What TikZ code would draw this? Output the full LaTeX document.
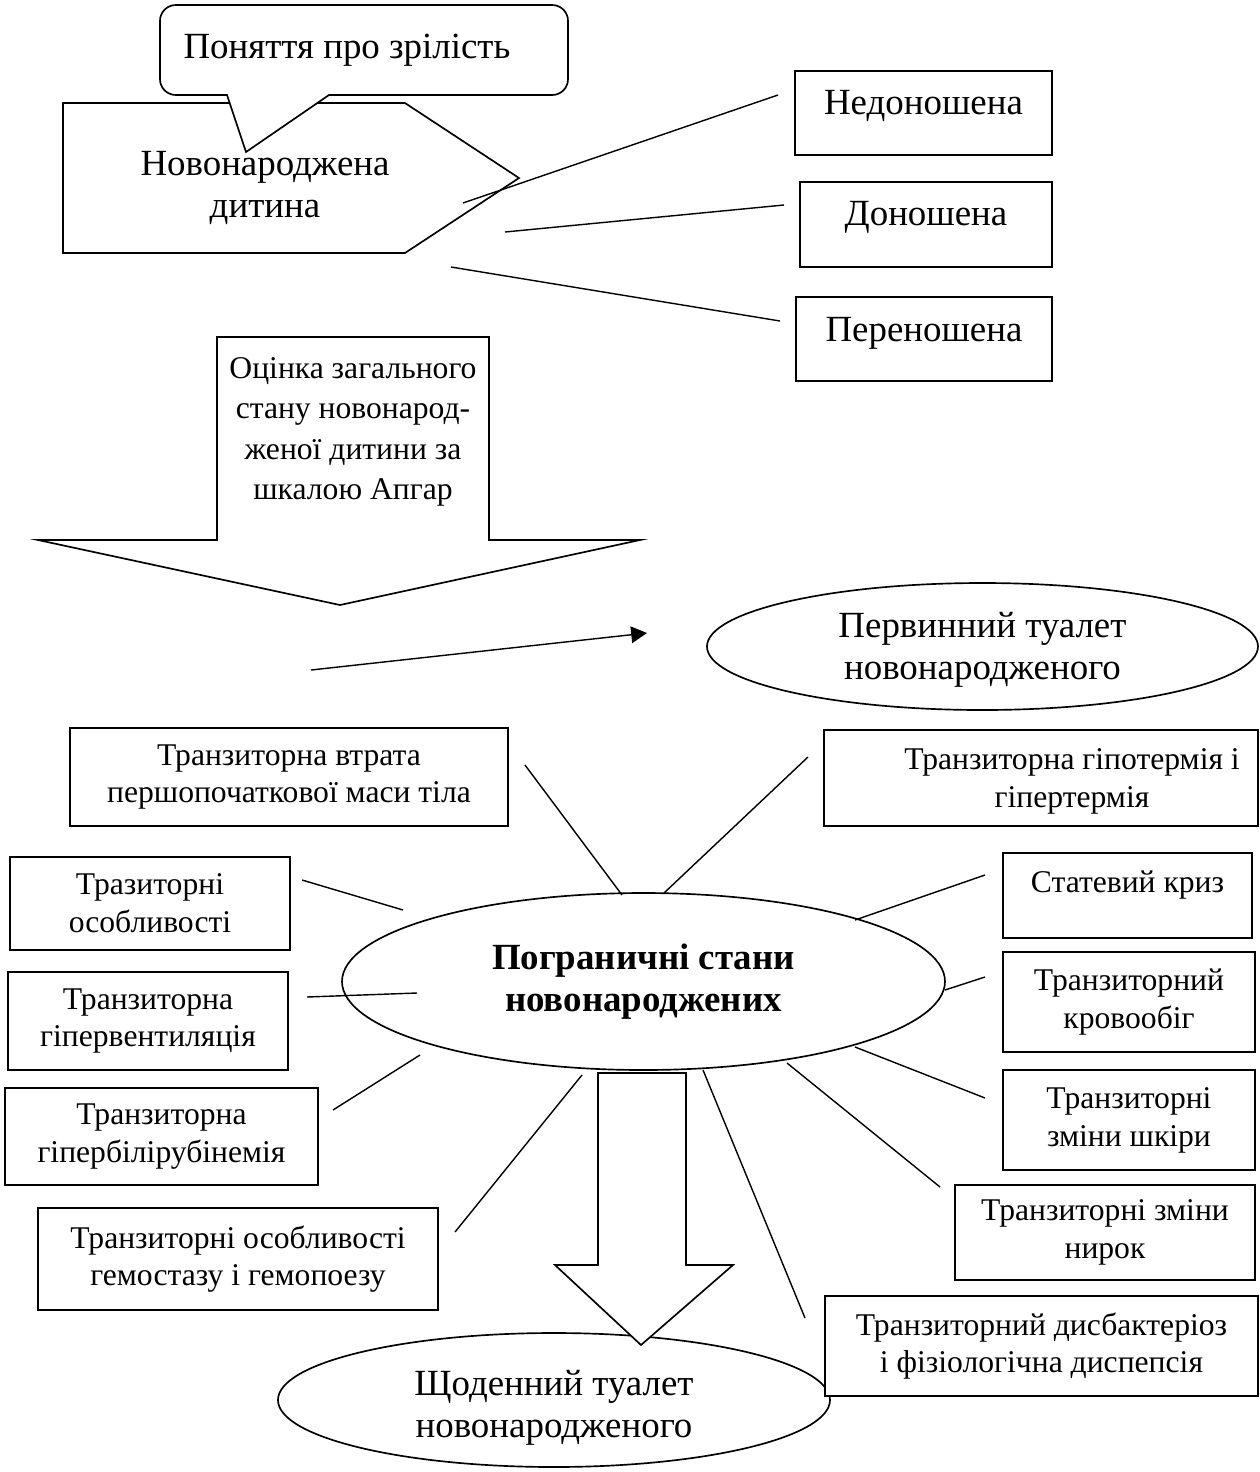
\documentclass[tikz,border=0pt]{standalone}
\usepackage{fontspec}
\setmainfont{Liberation Serif}
\usetikzlibrary{shapes.geometric,arrows.meta}
\newcommand\bigtxt{\fontsize{21}{24}\selectfont}
\newcommand\smalltxt{\fontsize{18}{21.5}\selectfont}

\begin{document}
\begin{tikzpicture}[x=0.02cm,y=-0.02cm,
  line width=0.95pt,
  box/.style 2 args={draw, fill=white, rectangle, inner sep=0pt,
    minimum width=#1*0.02cm, minimum height=#2*0.02cm},
  oval/.style 2 args={draw, fill=white, ellipse, inner sep=0pt,
    minimum width=#1*0.02cm, minimum height=#2*0.02cm},
  big/.style={font=\bigtxt, align=center, inner sep=0pt},
  small/.style={font=\smalltxt, align=center, inner sep=0pt},
  link/.style={line width=0.8pt}]

\useasboundingbox[fill=white] (0,0) rectangle (1260,1472);

% ---------- newborn and maturity ----------
\draw (63,103) -- (405,103) -- (519,178) -- (405,253) -- (63,253) -- cycle;
\node[big] (newborn) at (265,188) {Новонароджена\\дитина};

\draw[fill=white] (246,152) -- (227,95) [rounded corners=9pt] -- (160,95) -- (160,5)
  -- (568,5) -- (568,95) [sharp corners] -- (329,95) -- cycle;
\node[big] (maturity) at (347,50) {Поняття про зрілість};

\node[box={257}{84}] (pre) at (923.5,113) {};
\node[big] (pretxt) at (923.5,106) {Недоношена};
\node[box={252}{85}] (full) at (926,224.5) {};
\node[big] (fulltxt) at (926,217) {Доношена};
\node[box={256}{84}] (post) at (924,339) {};
\node[big] (posttxt) at (924,333) {Переношена};

\coordinate (n1) at (463,203);  \coordinate (p1) at (778,95);
\coordinate (n2) at (505,232);  \coordinate (p2) at (784,205);
\coordinate (n3) at (451,267);  \coordinate (p3) at (780,321);
\draw[link] (n1) -- (p1);
\draw[link] (n2) -- (p2);
\draw[link] (n3) -- (p3);

% ---------- Apgar score block arrow ----------
\draw (217,337) -- (489,337) -- (489,540) -- (640,540) -- (340,605)
  -- (38,540) -- (217,540) -- cycle;
\node[small, font=\fontsize{18}{23}\selectfont] (apgar) at (353,432)
  {Оцінка загального\\стану новонарод-\\женої дитини за\\шкалою Апгар};

\node[oval={551}{127}] (primary) at (982.5,646.5) {};
\node[big] (primarytxt) at (982.5,650) {Первинний туалет\\новонародженого};

\coordinate (ar1) at (311,670);
\coordinate (ar2) at (647,633);
\draw[link, -{Triangle[length=9pt,width=9.5pt]}] (ar1) -- (ar2);

% ---------- daily care ----------
\node[oval={552}{134}] (daily) at (554,1400) {};
\node[big] (dailytxt) at (554,1408) {Щоденний туалет\\новонародженого};

% ---------- boundary states ----------
\node[oval={603}{177}, font=\bigtxt\bfseries, align=center] (border) at (643.5,981.5)
  {Пограничні стани\\новонароджених};

\draw[fill=white] (598,1073) -- (686,1073) -- (686,1265) -- (733,1265) -- (641,1345)
  -- (555,1265) -- (598,1265) -- cycle;

\node[box={438}{98}, small] (weight) at (289,777)
  {Транзиторна втрата\\першопочаткової маси тіла};
\node[box={434}{96}] (thermo) at (1041,778) {};
\node[small] (thermotxt) at (1072,781) {Транзиторна гіпотермія і\\гіпертермія};
\node[box={280}{93}, small] (features) at (150,903.5) {Тразиторні\\особливості};
\node[box={249}{85}] (sexcrisis) at (1127.5,895.5) {};
\node[small] (sexcrisistxt) at (1127.5,885) {Статевий криз};
\node[box={252}{100}, small] (circ) at (1129,1002) {Транзиторний\\кровообіг};
\node[box={280}{98}, small] (hypervent) at (148,1021) {Транзиторна\\гіпервентиляція};
\node[box={313}{97}, small] (bilirubin) at (161.5,1136.5) {Транзиторна\\гіпербілірубінемія};
\node[box={252}{100}, small] (skin) at (1129,1120) {Транзиторні\\зміни шкіри};
\node[box={400}{102}, small] (hemo) at (238,1259)
  {Транзиторні особливості\\гемостазу і гемопоезу};
\node[box={300}{95}, small] (kidney) at (1105,1232.5) {Транзиторні зміни\\нирок};
\node[box={433}{100}, small] (dysbact) at (1041.5,1346)
  {Транзиторний дисбактеріоз\\і фізіологічна диспепсія};

% spokes around the central oval
\coordinate (w1) at (525,765);   \coordinate (w2) at (622,895);
\coordinate (t1) at (808,757);   \coordinate (t2) at (664,893);
\coordinate (f1) at (302,880);   \coordinate (f2) at (403,910);
\coordinate (s1) at (985,875);   \coordinate (s2) at (855,920);
\coordinate (v1) at (307,997);   \coordinate (v2) at (417,993);
\coordinate (c1) at (985,977);   \coordinate (c2) at (945,990);
\coordinate (b1) at (333,1110);  \coordinate (b2) at (420,1055);
\coordinate (k1) at (985,1098);  \coordinate (k2) at (855,1047);
\coordinate (r1) at (940,1187);  \coordinate (r2) at (787,1063);
\coordinate (h1) at (455,1232);  \coordinate (h2) at (582,1075);
\coordinate (d1) at (805,1318);  \coordinate (d2) at (703,1070);
\foreach \a/\b in {w1/w2, t1/t2, f1/f2, s1/s2, v1/v2, c1/c2, b1/b2, k1/k2, r1/r2, h1/h2, d1/d2}
  \draw[link] (\a) -- (\b);

\end{tikzpicture}
\end{document}
